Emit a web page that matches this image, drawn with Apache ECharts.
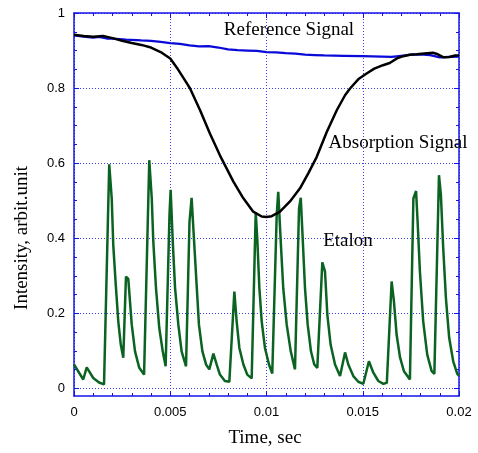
<!DOCTYPE html>
<html>
<head>
<meta charset="utf-8">
<script src="https://cdn.jsdelivr.net/npm/echarts@6/dist/echarts.min.js"></script>
<style>html,body{margin:0;padding:0;background:#fff;}#c{width:478px;height:453px;}</style>
</head>
<body>
<div id="c"></div>
<script>
// ---- data (time in sec, intensity in arbit. units) ----
const xTickValues = [0, 0.005, 0.01, 0.015, 0.02];
const xTickLabels = ['0', '0.005', '0.01', '0.015', '0.02'];
const yTickValues = [0, 0.2, 0.4, 0.6, 0.8, 1];
const yTickLabels = ['0', '0.2', '0.4', '0.6', '0.8', '1'];
const yMinorValues = [0.05,0.1,0.15,0.25,0.3,0.35,0.45,0.5,0.55,0.65,0.7,0.75,0.85,0.9,0.95];

const referenceTime = [0,0.0005,0.001,0.0013,0.0017,0.002,0.0027,0.0035,0.004,0.0045,0.005,0.0055,0.006,0.0065,0.007,0.0075,0.008,0.0085,0.009,0.0095,0.01,0.0105,0.011,0.0115,0.012,0.0125,0.013,0.014,0.015,0.016,0.0165,0.017,0.0175,0.018,0.0185,0.019,0.0195,0.02];
const referenceValue = [0.940,0.937,0.934,0.936,0.932,0.932,0.929,0.927,0.926,0.923,0.920,0.918,0.914,0.911,0.912,0.908,0.903,0.901,0.900,0.899,0.896,0.895,0.893,0.892,0.889,0.888,0.887,0.886,0.885,0.884,0.883,0.886,0.889,0.890,0.888,0.882,0.883,0.884];

const absorptionTime = [0,0.0005,0.001,0.0015,0.002,0.0025,0.003,0.0035,0.004,0.0045,0.005,0.0054,0.0058,0.00603,0.00655,0.00706,0.00758,0.00784,0.00828,0.00879,0.00931,0.00975,0.01,0.01027,0.0107,0.01122,0.01174,0.01217,0.01261,0.01313,0.01365,0.01408,0.01434,0.0148,0.0152,0.0156,0.01605,0.0164,0.01678,0.0171,0.01745,0.0178,0.0182,0.01865,0.0189,0.0192,0.0195,0.0198,0.02];
const absorptionValue = [0.942,0.939,0.937,0.939,0.933,0.926,0.920,0.915,0.908,0.896,0.879,0.850,0.818,0.799,0.741,0.679,0.621,0.595,0.551,0.507,0.471,0.458,0.457,0.459,0.471,0.498,0.533,0.573,0.617,0.683,0.741,0.781,0.799,0.825,0.839,0.852,0.861,0.867,0.879,0.885,0.889,0.890,0.892,0.894,0.890,0.882,0.883,0.887,0.887];

const etalonTime = [0,0.00048,0.00066,0.001,0.0013,0.00156,
  0.00183,0.00196,0.00204,0.00217,0.0023,0.00243,0.00256,
  0.0027,0.00282,0.003,0.00317,0.00339,0.00364,
  0.00391,0.00404,0.00412,0.00426,0.00443,0.00461,0.00476,
  0.00496,0.00502,0.00513,0.00525,0.00542,0.00559,0.00582,
  0.006,0.00611,0.00623,0.00637,0.00649,0.00667,0.00686,0.00703,
  0.00724,0.00741,0.00758,0.00784,0.00807,
  0.00833,0.00845,0.00859,0.0088,0.009,0.00923,
  0.00944,0.00952,0.00963,0.00975,0.00992,0.01013,0.0103,
  0.01053,0.01061,0.01074,0.01087,0.01105,0.01126,0.01148,
  0.01169,0.01178,0.01188,0.012,0.01214,0.01231,0.01248,0.01264,
  0.0129,0.01304,0.01316,0.01333,0.01356,0.01382,
  0.01408,0.01425,0.01451,0.01477,0.01503,
  0.01532,0.01555,0.01581,0.01607,0.01625,
  0.0165,0.01662,0.01676,0.01694,0.01714,0.01745,
  0.01763,0.01777,0.01785,0.01797,0.01814,0.01835,0.01858,0.01872,
  0.01896,0.01906,0.01918,0.01932,0.01949,0.0197,0.01991,0.02];
const etalonValue = [0.064,0.024,0.056,0.028,0.016,0.011,
  0.597,0.506,0.382,0.276,0.179,0.117,0.082,
  0.298,0.292,0.170,0.099,0.055,0.037,
  0.608,0.506,0.391,0.267,0.161,0.099,0.059,
  0.462,0.529,0.391,0.268,0.170,0.099,0.059,
  0.444,0.508,0.400,0.276,0.170,0.099,0.064,0.051,
  0.093,0.064,0.037,0.020,0.018,
  0.258,0.179,0.108,0.064,0.037,0.027,
  0.469,0.400,0.267,0.179,0.108,0.064,0.040,
  0.462,0.524,0.391,0.267,0.170,0.099,0.051,
  0.480,0.508,0.400,0.267,0.170,0.099,0.064,0.055,
  0.336,0.311,0.197,0.117,0.064,0.033,
  0.096,0.064,0.033,0.018,0.0125,
  0.0725,0.042,0.020,0.0125,0.015,
  0.285,0.232,0.143,0.082,0.046,0.024,
  0.506,0.526,0.444,0.311,0.179,0.090,0.046,0.039,
  0.568,0.515,0.374,0.241,0.135,0.0725,0.039,0.033];

function pairs(t, v) { return t.map((x, i) => [x, v[i]]); }
function lookup(vals, labels) {
  return function (value) {
    for (let i = 0; i < vals.length; i++) if (Math.abs(vals[i] - value) < 1e-9) return labels[i];
    return '';
  };
}

const BLUE = '#1414e6';
const GRID_BLUE = '#3c3cf0';
const SANS = 'Liberation Sans';

const chart = echarts.init(document.getElementById('c'), null, {renderer: 'canvas'});

const xCommon = {
  type: 'value', min: 0, max: 0.02, interval: 0.005,
  axisLine: {show: true, onZero: false, lineStyle: {color: BLUE, width: 1.5}},
  axisTick: {show: true, inside: true, length: 5, lineStyle: {color: BLUE}},
  minorTick: {show: true, splitNumber: 5, length: 3, lineStyle: {color: BLUE}},
  splitLine: {show: false}
};
const yMajor = {
  type: 'value', min: -0.02, max: 1,
  axisLine: {show: true, onZero: false, lineStyle: {color: BLUE, width: 1.5}},
  axisTick: {show: true, inside: true, length: 5, customValues: yTickValues, lineStyle: {color: BLUE}},
  splitLine: {show: false}
};
const yMinor = {
  type: 'value', min: -0.02, max: 1,
  axisLine: {show: false, onZero: false},
  axisTick: {show: true, inside: true, length: 3, customValues: yMinorValues, lineStyle: {color: BLUE}},
  axisLabel: {show: false},
  splitLine: {show: false}
};

chart.setOption({
  animation: false,
  backgroundColor: '#ffffff',
  grid: {left: 74, right: 19, top: 13, bottom: 57, containLabel: false},
  xAxis: [
    Object.assign({}, xCommon, {
      position: 'bottom',
      axisLabel: {show: true, margin: 10, fontFamily: SANS, fontSize: 13, color: '#000',
        customValues: xTickValues, formatter: lookup(xTickValues, xTickLabels)},
      splitLine: {show: true, lineStyle: {color: GRID_BLUE, width: 1, type: [1, 2]}}
    }),
    Object.assign({}, xCommon, {position: 'top', axisLabel: {show: false}})
  ],
  yAxis: [
    Object.assign({}, yMajor, {
      position: 'left',
      axisLabel: {show: true, margin: 9, fontFamily: SANS, fontSize: 13, color: '#000',
        customValues: yTickValues, formatter: lookup(yTickValues, yTickLabels)},
      splitLine: {show: true, lineStyle: {color: GRID_BLUE, width: 1, type: [1, 2]}}
    }),
    Object.assign({}, yMajor, {position: 'right', axisLabel: {show: false}}),
    Object.assign({}, yMinor, {position: 'left'}),
    Object.assign({}, yMinor, {position: 'right'})
  ],
  series: [
    {name: 'Etalon', type: 'line', xAxisIndex: 0, yAxisIndex: 0, data: pairs(etalonTime, etalonValue),
      showSymbol: false, symbol: 'none', lineStyle: {color: '#0b6322', width: 2.5}, z: 3},
    {name: 'Reference Signal', type: 'line', xAxisIndex: 0, yAxisIndex: 0, data: pairs(referenceTime, referenceValue),
      showSymbol: false, symbol: 'none', lineStyle: {color: '#0a0ad8', width: 2.2}, z: 4},
    {name: 'Absorption Signal', type: 'line', xAxisIndex: 0, yAxisIndex: 0, data: pairs(absorptionTime, absorptionValue),
      showSymbol: false, symbol: 'none', lineStyle: {color: '#000000', width: 2.5}, z: 5}
  ],
  graphic: [
    {type: 'text', x: 265, y: 438, style: {text: 'Time, sec', font: '19px "Liberation Serif"', fill: '#000', align: 'center', verticalAlign: 'middle'}},
    {type: 'text', x: 22, y: 238, rotation: Math.PI / 2, style: {text: 'Intensity, arbit.unit', font: '19px "Liberation Serif"', fill: '#000', align: 'center', verticalAlign: 'middle'}},
    {type: 'text', x: 289, y: 30, style: {text: 'Reference Signal', font: '19px "Liberation Serif"', fill: '#000', align: 'center', verticalAlign: 'middle'}, z: 10},
    {type: 'text', x: 398, y: 143, style: {text: 'Absorption Signal', font: '19px "Liberation Serif"', fill: '#000', align: 'center', verticalAlign: 'middle'}, z: 10},
    {type: 'text', x: 348, y: 241, style: {text: 'Etalon', font: '19px "Liberation Serif"', fill: '#000', align: 'center', verticalAlign: 'middle'}, z: 10}
  ]
});
</script>
</body>
</html>
